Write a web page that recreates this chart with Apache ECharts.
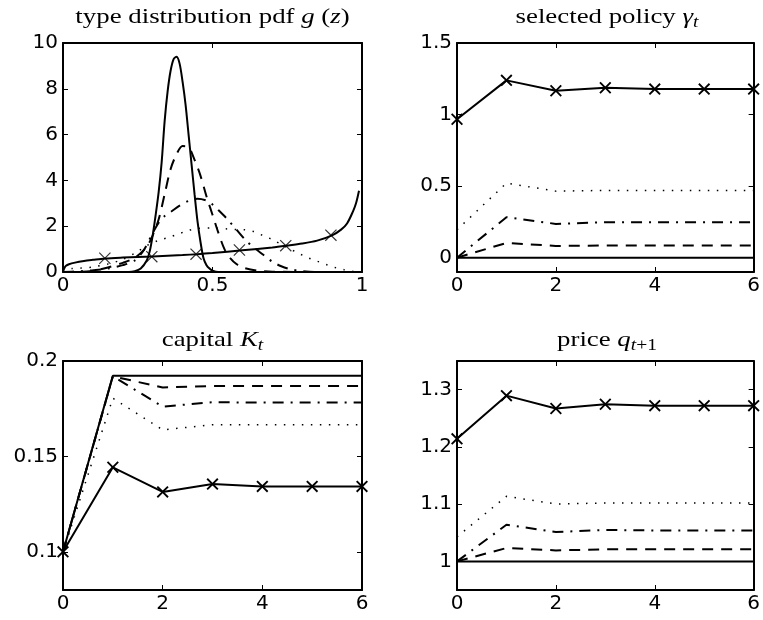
<!DOCTYPE html>
<html>
<head>
<meta charset="utf-8">
<script src="https://cdn.jsdelivr.net/npm/echarts@6/dist/echarts.min.js"></script>
<style>
  html, body { margin: 0; padding: 0; background: #fff; }
  #chart { width: 763px; height: 620px; }
</style>
</head>
<body>
<div id="chart"></div>
<script>
// panel 1: type distribution pdf g(z), five curves
const zA = [0, 0.22, 0.24, 0.26, 0.28, 0.29, 0.30, 0.31, 0.32, 0.33, 0.34, 0.35, 0.36, 0.37, 0.38, 0.39, 0.40, 0.41, 0.42, 0.43, 0.44, 0.45, 0.46, 0.47, 0.48, 0.49, 0.50, 0.52, 1.0];
const gA = [0, 0, 0.03, 0.15, 0.5, 0.9, 1.6, 2.5, 3.5, 4.8, 6.6, 7.9, 8.8, 9.3, 9.4, 9.1, 8.3, 7.3, 6.0, 4.7, 3.4, 2.2, 1.3, 0.6, 0.3, 0.15, 0.06, 0, 0];
const zB = [0, 0.08, 0.12, 0.15, 0.2, 0.24, 0.28, 0.30, 0.32, 0.34, 0.36, 0.38, 0.40, 0.42, 0.44, 0.46, 0.48, 0.50, 0.52, 0.54, 0.56, 0.58, 0.60, 0.65, 0.70, 1.0];
const gB = [0, 0.02, 0.1, 0.2, 0.4, 0.62, 1.1, 1.6, 2.3, 3.4, 4.5, 5.15, 5.5, 5.45, 4.9, 4.2, 3.3, 2.5, 1.7, 1.0, 0.6, 0.35, 0.2, 0.06, 0.01, 0];
const zC = [0, 0.05, 0.1, 0.15, 0.2, 0.24, 0.27, 0.30, 0.32, 0.34, 0.36, 0.39, 0.42, 0.45, 0.48, 0.50, 0.52, 0.55, 0.58, 0.61, 0.64, 0.67, 0.70, 0.73, 0.76, 0.80, 0.85, 1.0];
const gC = [0, 0.03, 0.08, 0.15, 0.3, 0.5, 0.95, 1.7, 2.15, 2.45, 2.62, 2.9, 3.1, 3.2, 3.12, 2.95, 2.7, 2.3, 1.85, 1.4, 1.05, 0.75, 0.45, 0.25, 0.12, 0.04, 0, 0];
const zD = [0, 0.03, 0.06, 0.1, 0.15, 0.2, 0.25, 0.28, 0.31, 0.33, 0.36, 0.39, 0.42, 0.45, 0.5, 0.55, 0.58, 0.61, 0.64, 0.67, 0.7, 0.73, 0.76, 0.79, 0.82, 0.85, 0.88, 0.91, 0.94, 0.97, 1.0];
const gD = [0, 0.15, 0.17, 0.22, 0.35, 0.55, 0.9, 1.15, 1.33, 1.42, 1.54, 1.68, 1.82, 1.9, 1.92, 1.88, 1.85, 1.84, 1.76, 1.58, 1.42, 1.2, 1.0, 0.8, 0.62, 0.47, 0.33, 0.2, 0.1, 0.03, 0];
const zE = [0, 0.005, 0.01, 0.02, 0.04, 0.07, 0.1, 0.14, 0.2, 0.3, 0.4, 0.45, 0.5, 0.6, 0.7, 0.75, 0.8, 0.85, 0.9, 0.93, 0.95, 0.97, 0.98, 0.99];
const gE = [0, 0.18, 0.27, 0.34, 0.41, 0.48, 0.53, 0.59, 0.63, 0.68, 0.74, 0.78, 0.83, 0.95, 1.07, 1.15, 1.24, 1.37, 1.6, 1.85, 2.12, 2.65, 3.0, 3.55];
const zMark = [0.14, 0.297, 0.445, 0.59, 0.745, 0.896];
const gMark = [0.60, 0.67, 0.78, 0.96, 1.15, 1.61];

// panels 2-4: time paths t = 0..6
const t = [0, 1, 2, 3, 4, 5, 6];
const gammaCross = [0.967, 1.239, 1.166, 1.187, 1.178, 1.178, 1.178];
const gammaDot = [0.195, 0.521, 0.465, 0.47, 0.47, 0.47, 0.47];
const gammaDashDot = [0, 0.283, 0.236, 0.248, 0.248, 0.248, 0.248];
const gammaDash = [0, 0.103, 0.082, 0.085, 0.085, 0.085, 0.085];
const gammaSolid = [0, 0, 0, 0, 0, 0, 0];

const kCross = [0.1, 0.1443, 0.1314, 0.1355, 0.1343, 0.1343, 0.1343];
const kDot = [0.1, 0.1805, 0.1639, 0.1666, 0.1666, 0.1666, 0.1666];
const kDashDot = [0.1, 0.192, 0.1761, 0.1784, 0.1782, 0.1782, 0.1782];
const kDash = [0.1, 0.192, 0.1861, 0.1869, 0.1869, 0.1869, 0.1869];
const kSolid = [0.1, 0.1923, 0.1923, 0.1923, 0.1923, 0.1923, 0.1923];

const qCross = [1.214, 1.2895, 1.267, 1.2744, 1.272, 1.272, 1.272];
const qDot = [1.043, 1.1136, 1.1002, 1.102, 1.102, 1.102, 1.102];
const qDashDot = [1.0, 1.064, 1.0513, 1.0548, 1.054, 1.054, 1.054];
const qDash = [1.0, 1.0233, 1.0192, 1.021, 1.021, 1.021, 1.021];
const qSolid = [1, 1, 1, 1, 1, 1, 1];

// tick values
const xTicksPdf = [0, 0.5, 1];
const xTicksT = [0, 2, 4, 6];
const yTicksPdf = [0, 2, 4, 6, 8, 10];
const yTicksGamma = [0, 0.5, 1, 1.5];
const yTicksK = [0.1, 0.15, 0.2];
const yTicksQ = [1, 1.1, 1.2, 1.3];

const chart = echarts.init(document.getElementById('chart'));

const grids = [
  { left: 63, top: 43, width: 299, height: 229 },
  { left: 457, top: 43, width: 300, height: 229 },
  { left: 63, top: 361, width: 299, height: 229 },
  { left: 457, top: 361, width: 300, height: 229 }
];
const xr = [
  { min: 0, max: 1, ticks: xTicksPdf },
  { min: 0, max: 6, ticks: xTicksT },
  { min: 0, max: 6, ticks: xTicksT },
  { min: 0, max: 6, ticks: xTicksT }
];
const yr = [
  { min: 0, max: 10, ticks: yTicksPdf },
  { min: -0.1, max: 1.5, ticks: yTicksGamma },
  { min: 0.08, max: 0.2, ticks: yTicksK },
  { min: 0.95, max: 1.35, ticks: yTicksQ }
];

const labelFont = { color: '#000', fontFamily: 'DejaVu Sans', fontSize: 20 };

function axis (r, i, pos, labels) {
  return {
    type: 'value',
    gridIndex: i,
    position: pos,
    min: r.min,
    max: r.max,
    splitLine: { show: false },
    axisLine: { show: true, onZero: false, lineStyle: { color: '#000', width: 2 } },
    axisTick: { show: true, inside: true, length: 5, customValues: r.ticks, lineStyle: { color: '#000', width: 1 } },
    axisLabel: Object.assign({ show: labels, customValues: r.ticks, margin: pos === 'bottom' ? 4 : 5 }, labelFont)
  };
}

const xAxis = [], yAxis = [];
for (let i = 0; i < 4; i++) {
  xAxis.push(axis(xr[i], i, 'bottom', true));
  xAxis.push(axis(xr[i], i, 'top', false));
  yAxis.push(axis(yr[i], i, 'left', true));
  yAxis.push(axis(yr[i], i, 'right', false));
}

function pairs (xs, ys) {
  return xs.map((x, i) => [x, ys[i]]);
}

const styles = {
  solid: { type: 'solid', width: 2 },
  dash: { type: [11, 8], width: 2 },
  dashdot: { type: [11, 7, 2, 7], width: 2 },
  dot: { type: [1.5, 7.5], width: 1.5 }
};
const thinX = 'path://M0,0.7 L0.7,0 L5,4.3 L9.3,0 L10,0.7 L5.7,5 L10,9.3 L9.3,10 L5,5.7 L0.7,10 L0,9.3 L4.3,5 Z';
const boldX = 'path://M0,1.1 L1.1,0 L5,3.9 L8.9,0 L10,1.1 L6.1,5 L10,8.9 L8.9,10 L5,6.1 L1.1,10 L0,8.9 L3.9,5 Z';

function line (i, data, style, smooth) {
  return {
    type: 'line',
    xAxisIndex: 2 * i,
    yAxisIndex: 2 * i,
    data: data,
    symbol: 'none',
    smooth: smooth ? 0.3 : false,
    lineStyle: Object.assign({ color: '#000' }, styles[style]),
    silent: true
  };
}
function crossLine (i, data) {
  return {
    type: 'line',
    xAxisIndex: 2 * i,
    yAxisIndex: 2 * i,
    data: data,
    symbol: boldX,
    symbolSize: 12,
    showAllSymbol: true,
    clip: false,
    itemStyle: { color: '#000' },
    lineStyle: Object.assign({ color: '#000' }, styles.solid),
    silent: true
  };
}

const series = [
  line(0, pairs(zE, gE), 'solid', true),
  line(0, pairs(zD, gD), 'dot', true),
  line(0, pairs(zC, gC), 'dashdot', true),
  line(0, pairs(zB, gB), 'dash', true),
  line(0, pairs(zA, gA), 'solid', true),
  {
    type: 'scatter', xAxisIndex: 0, yAxisIndex: 0,
    data: pairs(zMark, gMark), symbol: thinX, symbolSize: 12,
    itemStyle: { color: '#000' }, silent: true
  },

  line(1, pairs(t, gammaSolid), 'solid'),
  line(1, pairs(t, gammaDash), 'dash'),
  line(1, pairs(t, gammaDashDot), 'dashdot'),
  line(1, pairs(t, gammaDot), 'dot'),
  crossLine(1, pairs(t, gammaCross)),

  line(2, pairs(t, kSolid), 'solid'),
  line(2, pairs(t, kDash), 'dash'),
  line(2, pairs(t, kDashDot), 'dashdot'),
  line(2, pairs(t, kDot), 'dot'),
  crossLine(2, pairs(t, kCross)),

  line(3, pairs(t, qSolid), 'solid'),
  line(3, pairs(t, qDash), 'dash'),
  line(3, pairs(t, qDashDot), 'dashdot'),
  line(3, pairs(t, qDot), 'dot'),
  crossLine(3, pairs(t, qCross))
];

// titles (serif, math parts italic, subscripts lowered)
const serif = 'Liberation Serif';
const rich = {
  n: { fontFamily: serif, fontSize: 22, fill: '#000' },
  i: { fontFamily: serif, fontSize: 22, fontStyle: 'italic', fill: '#000' },
  s: { fontFamily: serif, fontSize: 16, fontStyle: 'italic', fill: '#000', padding: [12, 0, 0, 0] },
  u: { fontFamily: serif, fontSize: 16, fill: '#000', padding: [12, 0, 0, 0] }
};
function title (text, x, y) {
  return {
    type: 'text', x: x, y: y, scaleX: 1.22, silent: true,
    style: { text: text, rich: rich, align: 'center', verticalAlign: 'middle', fill: '#000' }
  };
}

chart.setOption({
  animation: false,
  grid: grids,
  xAxis: xAxis,
  yAxis: yAxis,
  series: series,
  graphic: [
    title('{n|type distribution pdf }{i|g}{n| (}{i|z}{n|)}', 212.5, 17),
    title('{n|selected policy }{i|γ}{s|t}', 607, 17),
    title('{n|capital }{i|K}{s|t}', 212.5, 340),
    title('{n|price }{i|q}{s|t}{u|+1}', 607, 340)
  ]
});
</script>
</body>
</html>
